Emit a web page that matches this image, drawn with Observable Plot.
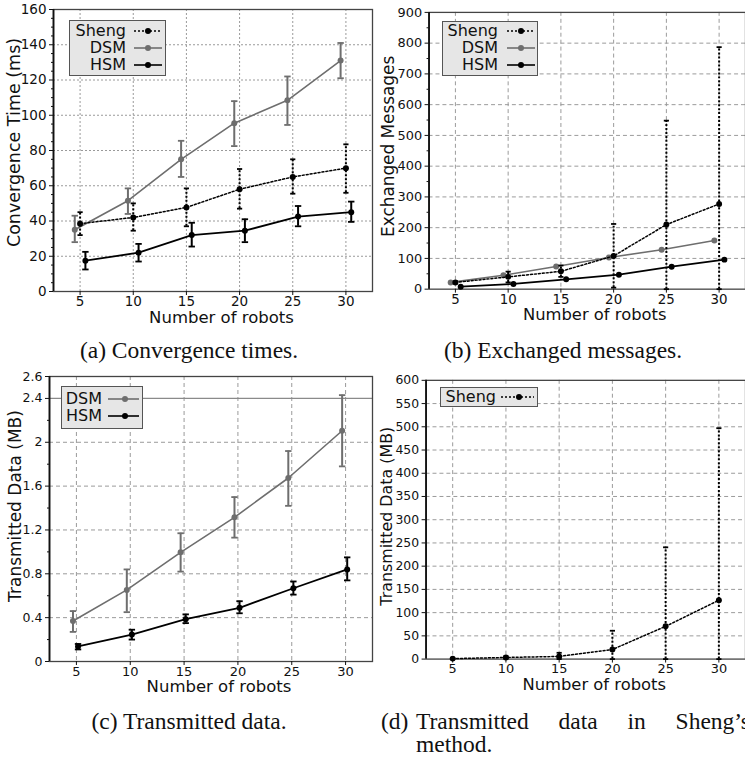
<!DOCTYPE html>
<html>
<head>
<meta charset="utf-8">
<script src="https://cdn.jsdelivr.net/npm/d3@7"></script>
<script src="https://cdn.jsdelivr.net/npm/@observablehq/plot@0.6"></script>
<style>
  html, body { margin: 0; padding: 0; background: #fff; }
  body { width: 745px; height: 763px; overflow: hidden; position: relative; font-family: "DejaVu Sans", sans-serif; }
  .panel { position: absolute; }
  .panel svg { overflow: visible; }
  .cap { position: absolute; font-family: "Liberation Serif", "Times New Roman", serif; font-size: 23.5px; white-space: nowrap; color: #111; line-height: 1; }
  .legend { position: absolute; background: #e6e6e6; border: 1.5px solid #555; box-sizing: border-box; }
  .legend .lab { position: absolute; font-family: "DejaVu Sans", sans-serif; font-size: 16px; color: #111; line-height: 1; transform: translate(-100%, -50%); white-space: nowrap; }
  .legend svg { position: absolute; overflow: visible; }
</style>
</head>
<body>
<div id="pa" class="panel" style="left:0;top:0"></div>
<div id="pb" class="panel" style="left:372px;top:0"></div>
<div id="pc" class="panel" style="left:0;top:360px"></div>
<div id="pd" class="panel" style="left:372px;top:360px"></div>

<div class="cap" style="left:189px;top:351px;transform:translate(-50%,-50%)">(a) Convergence times.</div>
<div class="cap" style="left:563px;top:351px;transform:translate(-50%,-50%)">(b) Exchanged messages.</div>
<div class="cap" style="left:189px;top:722px;transform:translate(-50%,-50%)">(c) Transmitted data.</div>
<div class="cap" style="left:381px;top:722px;transform:translateY(-50%)">(d)</div>
<div class="cap" style="left:416px;top:722px;width:334px;transform:translateY(-50%);white-space:normal;text-align:justify;text-align-last:justify">Transmitted data in Sheng’s</div>
<div class="cap" style="left:416px;top:745px;transform:translateY(-50%)">method.</div>

<script>
// Robot counts on the x axis
const robots = [5, 10, 15, 20, 25, 30];

// (a) Convergence time (ms): mean and error-bar bounds
const convShengMean = [38.5, 42, 47.7, 58, 65, 70];
const convShengLow  = [32, 34.5, 37, 47, 55.5, 56];
const convShengHigh = [45, 50, 58.5, 69.5, 75, 83.5];
const convDsmMean   = [35, 51.5, 75, 95.5, 108.5, 131];
const convDsmLow    = [28, 44, 65, 82.5, 94.5, 121];
const convDsmHigh   = [43, 58.5, 85.5, 108, 122, 141];
const convHsmMean   = [17.5, 22, 32, 34.5, 42.5, 45];
const convHsmLow    = [12.5, 17, 25.5, 28, 37, 39.5];
const convHsmHigh   = [22.5, 27, 39, 41, 48.5, 51];
const convTicks     = [0, 20, 40, 60, 80, 100, 120, 140, 160];

// (b) Exchanged messages
const msgShengMean = [22, 40, 58, 108, 210, 277];
const msgShengLow  = [19, 22, 40, 5, 0, 0];
const msgShengHigh = [25, 57, 77, 212, 548, 787];
const msgDsmMean   = [22, 45, 74, 103, 128, 158];
const msgHsmMean   = [8, 17, 32, 47, 73, 96];
const msgTicks     = [0, 100, 200, 300, 400, 500, 600, 700, 800, 900];

// (c) Transmitted data (MB), DSM and HSM
const dataDsmMean = [0.37, 0.653, 0.996, 1.315, 1.674, 2.105];
const dataDsmLow  = [0.27, 0.45, 0.82, 1.13, 1.42, 1.78];
const dataDsmHigh = [0.46, 0.84, 1.17, 1.5, 1.92, 2.43];
const dataHsmMean = [0.137, 0.246, 0.386, 0.49, 0.668, 0.84];
const dataHsmLow  = [0.11, 0.2, 0.35, 0.44, 0.61, 0.74];
const dataHsmHigh = [0.16, 0.29, 0.43, 0.55, 0.73, 0.95];
const dataTicks   = [0, 0.4, 0.8, 1.2, 1.6, 2, 2.4, 2.6];
const dataGrid    = [0.4, 0.8, 1.2, 1.6, 2];
const dataRefLine = [2.4];

// (d) Transmitted data (MB), Sheng
const shengDataMean = [1, 3.5, 5.7, 20.6, 70.5, 126.7];
const shengDataLow  = [0, 1, 0, 0, 0, 0];
const shengDataHigh = [2, 6, 13.5, 61, 240.6, 497];
const shengTicks    = [0, 50, 100, 150, 200, 250, 300, 350, 400, 450, 500, 550, 600];

const xDomain = [2.5, 32.5];
const GRAY = "#6e6e6e", BLACK = "#000";

// horizontal bar used as error-bar cap
const capSymbol = {
  draw(ctx, size) {
    const r = Math.sqrt(size / Math.PI);
    ctx.moveTo(-r, 0);
    ctx.lineTo(r, 0);
  }
};

function rows(mean, low, high, shift) {
  return robots.map((r, i) => ({
    x: r + shift,
    y: mean[i],
    lo: low ? low[i] : mean[i],
    hi: high ? high[i] : mean[i]
  }));
}

function series(data, {stroke, dash = null, width = 1.6, errWidth = 2, capR = 3.2, dotR = 3, errors = true}) {
  const marks = [
    Plot.line(data, {x: "x", y: "y", stroke, strokeWidth: width, strokeDasharray: dash})
  ];
  if (errors) {
    marks.push(
      Plot.ruleX(data, {x: "x", y1: "lo", y2: "hi", stroke, strokeWidth: errWidth, strokeDasharray: dash}),
      Plot.dot(data, {x: "x", y: "hi", symbol: capSymbol, r: capR, stroke, strokeWidth: 1.8}),
      Plot.dot(data, {x: "x", y: "lo", symbol: capSymbol, r: capR, stroke, strokeWidth: 1.8})
    );
  }
  marks.push(Plot.dot(data, {x: "x", y: "y", r: dotR, fill: stroke, stroke: "none"}));
  return marks;
}

function panel(el, cfg) {
  const minor = [];
  for (let i = 0; i < cfg.yTicks.length - 1; i++) {
    const a = cfg.yTicks[i], b = cfg.yTicks[i + 1];
    if (b - a > cfg.minorStep * 1.01) {
      for (let v = a + cfg.minorStep; v < b - 1e-9; v += cfg.minorStep) minor.push(+v.toFixed(6));
    }
  }
  const chart = Plot.plot({
    width: cfg.width,
    height: cfg.height,
    marginLeft: cfg.ml,
    marginRight: cfg.mr,
    marginTop: cfg.mt,
    marginBottom: cfg.mb,
    style: {fontFamily: "DejaVu Sans, sans-serif", background: "transparent", overflow: "visible"},
    x: {domain: xDomain, label: null},
    y: {domain: cfg.yDomain, label: null},
    marks: [
      Plot.gridX(robots, {stroke: "#9a9a9a", strokeOpacity: 1, strokeWidth: 1, strokeDasharray: cfg.gridDash}),
      Plot.gridY(cfg.yGrid, {stroke: "#9a9a9a", strokeOpacity: 1, strokeWidth: 1, strokeDasharray: cfg.gridDash}),
      ...(cfg.extra || []),
      Plot.frame({stroke: "#444", strokeWidth: 1.3}),
      Plot.ruleX([xDomain[0]], {stroke: "#111", strokeWidth: 1.8}),
      Plot.axisY(cfg.yTicks, {tickSize: 4, tickPadding: 3, fontSize: cfg.yFont, color: "#111", tickFormat: d => String(d), label: null}),
      Plot.axisY(minor, {tickSize: 2, tickFormat: () => "", color: "#111", label: null}),
      Plot.axisX(robots, {tickSize: 4, tickPadding: 1, fontSize: cfg.xFont, color: "#111", tickFormat: d => String(d), label: null}),
      ...cfg.series,
      Plot.text([cfg.xTitle], {text: d => d, frameAnchor: "bottom", textAnchor: "middle", lineAnchor: "middle", dx: cfg.xTitleDx, dy: cfg.xTitleDy, fontSize: 16.5, fill: "#111"}),
      Plot.text([cfg.yTitle], {text: d => d, frameAnchor: "left", rotate: -90, textAnchor: "middle", lineAnchor: "middle", dx: cfg.yTitleDx, dy: cfg.yTitleDy, fontSize: cfg.yTitleFont, fill: "#111"})
    ]
  });
  el.appendChild(chart);
  if (cfg.legend) addLegend(el, cfg.legend);
}

function addLegend(el, lg) {
  const box = document.createElement("div");
  box.className = "legend";
  Object.assign(box.style, {left: lg.left + "px", top: lg.top + "px", width: lg.width + "px", height: lg.height + "px"});
  for (const item of lg.items) {
    const lab = document.createElement("div");
    lab.className = "lab";
    lab.textContent = item.label;
    Object.assign(lab.style, {left: lg.textRight + "px", top: item.y + "px"});
    box.appendChild(lab);
    const ns = "http://www.w3.org/2000/svg";
    const svg = document.createElementNS(ns, "svg");
    svg.setAttribute("width", lg.x2 - lg.x1);
    svg.setAttribute("height", 10);
    Object.assign(svg.style, {left: lg.x1 + "px", top: (item.y - 5) + "px"});
    const line = document.createElementNS(ns, "line");
    line.setAttribute("x1", 0); line.setAttribute("x2", lg.x2 - lg.x1);
    line.setAttribute("y1", 5); line.setAttribute("y2", 5);
    line.setAttribute("stroke", item.stroke);
    line.setAttribute("stroke-width", 1.6);
    if (item.dash) line.setAttribute("stroke-dasharray", item.dash);
    svg.appendChild(line);
    const dot = document.createElementNS(ns, "circle");
    dot.setAttribute("cx", lg.dot - lg.x1); dot.setAttribute("cy", 5); dot.setAttribute("r", 3);
    dot.setAttribute("fill", item.stroke);
    svg.appendChild(dot);
    box.appendChild(svg);
  }
  el.appendChild(box);
}

const shengStyle = {stroke: BLACK, dash: "2,2", width: 1.5, errWidth: 2, capR: 2.6};
const dsmStyle = {stroke: GRAY, width: 1.6, errWidth: 2, capR: 3.2};
const hsmStyle = {stroke: BLACK, width: 1.8, errWidth: 2, capR: 3.2};

// (a) Convergence times
panel(document.getElementById("pa"), {
  width: 373, height: 330, ml: 53, mr: 1, mt: 9, mb: 39,
  yDomain: [0, 160], yTicks: convTicks, yGrid: convTicks.slice(1, -1), minorStep: 5,
  gridDash: "2,2", yFont: 13.5, xFont: 13.5,
  xTitle: "Number of robots", xTitleDx: 8.5, xTitleDy: 26,
  yTitle: "Convergence Time (ms)", yTitleDx: -39.5, yTitleDy: -8, yTitleFont: 17.5,
  series: [
    ...series(rows(convDsmMean, convDsmLow, convDsmHigh, -0.5), dsmStyle),
    ...series(rows(convShengMean, convShengLow, convShengHigh, 0), shengStyle),
    ...series(rows(convHsmMean, convHsmLow, convHsmHigh, 0.5), hsmStyle)
  ],
  legend: {left: 69, top: 20, width: 97, height: 56, textRight: 56, x1: 64, x2: 92, dot: 78,
    items: [
      {label: "Sheng", stroke: BLACK, dash: "2,2", y: 10},
      {label: "DSM", stroke: GRAY, y: 27},
      {label: "HSM", stroke: BLACK, y: 44}
    ]}
});

// (b) Exchanged messages
panel(document.getElementById("pb"), {
  width: 376, height: 330, ml: 57, mr: 0, mt: 12, mb: 39,
  yDomain: [0, 900], yTicks: msgTicks, yGrid: msgTicks.slice(1, -1), minorStep: 50,
  gridDash: "4,3", yFont: 13, xFont: 13.5,
  xTitle: "Number of robots", xTitleDx: 7.5, xTitleDy: 26,
  yTitle: "Exchanged Messages", yTitleDx: -41, yTitleDy: -4.5, yTitleFont: 17,
  series: [
    ...series(rows(msgDsmMean, null, null, -0.45), {...dsmStyle, errors: false}),
    ...series(rows(msgShengMean, msgShengLow, msgShengHigh, 0), shengStyle),
    ...series(rows(msgHsmMean, null, null, 0.5), {...hsmStyle, errors: false})
  ],
  legend: {left: 70, top: 21, width: 96, height: 55, textRight: 55, x1: 64, x2: 92, dot: 78,
    items: [
      {label: "Sheng", stroke: BLACK, dash: "2,2", y: 9},
      {label: "DSM", stroke: GRAY, y: 26},
      {label: "HSM", stroke: BLACK, y: 43}
    ]}
});

// (c) Transmitted data, DSM vs HSM
panel(document.getElementById("pc"), {
  width: 373, height: 340, ml: 49, mr: 1, mt: 16, mb: 39,
  yDomain: [0, 2.6], yTicks: dataTicks, yGrid: dataGrid, minorStep: 0.2,
  gridDash: "4,3", yFont: 12.5, xFont: 13,
  xTitle: "Number of robots", xTitleDx: 8, xTitleDy: 25,
  yTitle: "Transmitted Data (MB)", yTitleDx: -34, yTitleDy: -13, yTitleFont: 17,
  extra: [Plot.ruleY(dataRefLine, {stroke: "#8a8a8a", strokeWidth: 1.4})],
  series: [
    ...series(rows(dataDsmMean, dataDsmLow, dataDsmHigh, -0.32), dsmStyle),
    ...series(rows(dataHsmMean, dataHsmLow, dataHsmHigh, 0.15), hsmStyle)
  ],
  legend: {left: 61, top: 26, width: 82, height: 43, textRight: 40, x1: 46, x2: 77, dot: 63,
    items: [
      {label: "DSM", stroke: GRAY, y: 12},
      {label: "HSM", stroke: BLACK, y: 29}
    ]}
});

// (d) Transmitted data, Sheng
panel(document.getElementById("pd"), {
  width: 376, height: 340, ml: 54, mr: 0, mt: 20, mb: 39,
  yDomain: [0, 600], yTicks: shengTicks, yGrid: shengTicks.slice(1, -1), minorStep: 50,
  gridDash: "4,3", yFont: 12.5, xFont: 13,
  xTitle: "Number of robots", xTitleDx: 8.5, xTitleDy: 26,
  yTitle: "Transmitted Data (MB)", yTitleDx: -39, yTitleDy: -3.5, yTitleFont: 16,
  series: [
    ...series(rows(shengDataMean, shengDataLow, shengDataHigh, 0), shengStyle)
  ],
  legend: {left: 68, top: 27, width: 98, height: 20, textRight: 55, x1: 60, x2: 93, dot: 78,
    items: [
      {label: "Sheng", stroke: BLACK, dash: "2,2", y: 9}
    ]}
});
</script>
</body>
</html>
